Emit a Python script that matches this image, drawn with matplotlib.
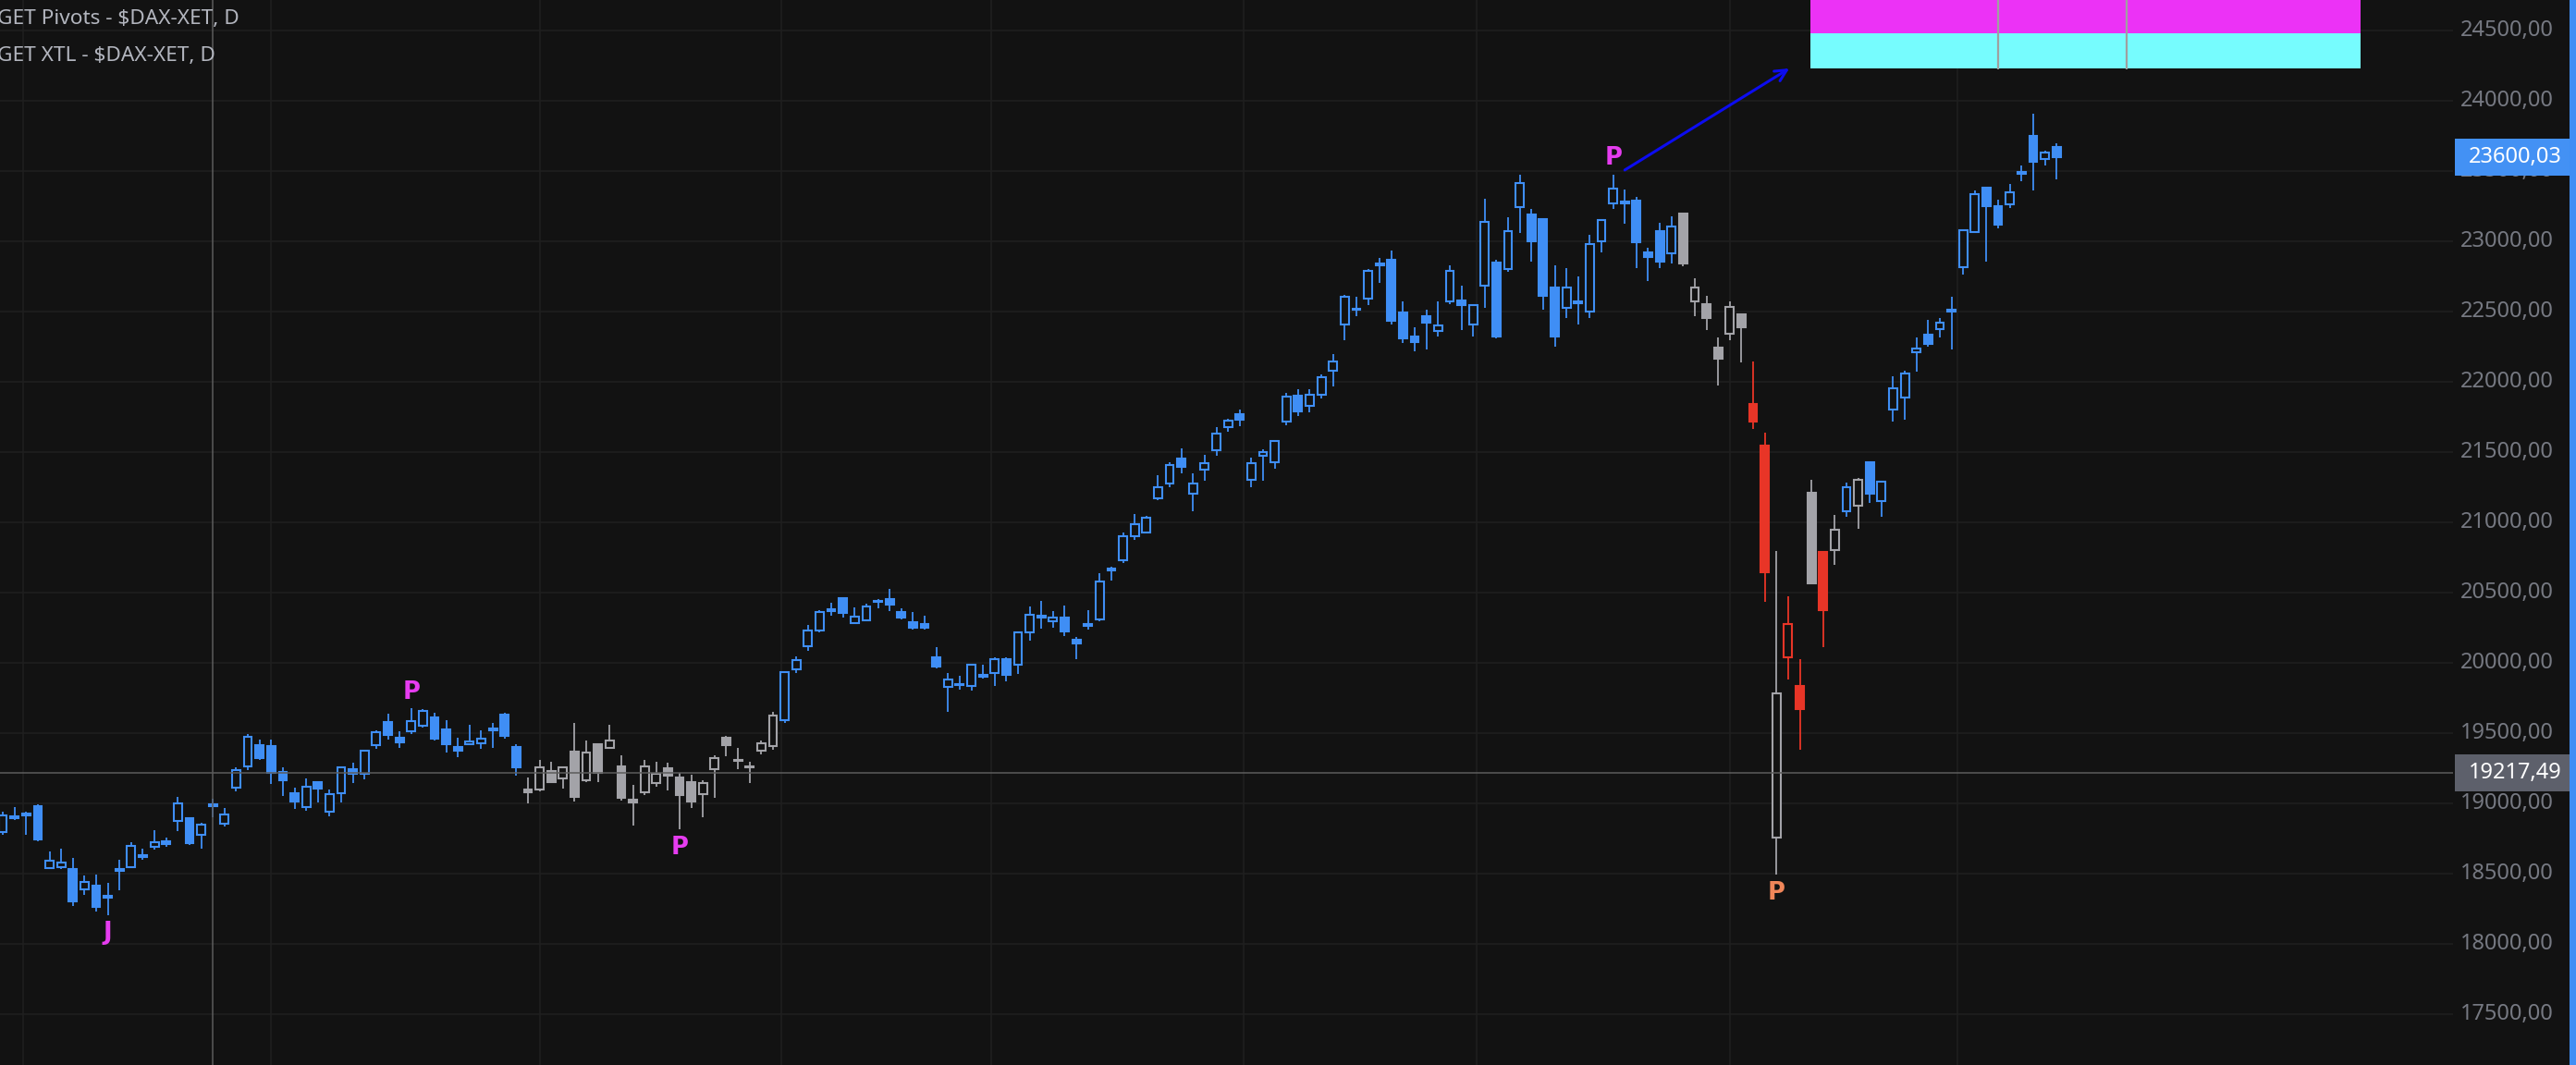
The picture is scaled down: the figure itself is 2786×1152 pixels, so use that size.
import numpy as np
import pandas as pd
import matplotlib
matplotlib.use('Agg')
import matplotlib.pyplot as plt
from matplotlib.patches import Rectangle

# daily DAX candles, Sep 2024 - May 2025
opens = [18794, 18892, 18927, 18980, 18537, 18544, 18530, 18386, 18414, 18342,
         18533, 18548, 18629, 18688, 18728, 18877, 18894, 18774, 18991, 18853,
         19109, 19261, 19412, 19408, 19223, 19072, 18971, 19151, 18938, 19070,
         19243, 19208, 19412, 19579, 19467, 19511, 19550, 19612, 19526, 19401,
         19419, 19425, 19533, 19631, 19401, 19098, 19099, 19233, 19176, 19365,
         19165, 19418, 19394, 19266, 19027, 19077, 19143, 19251, 19181, 19154,
         19064, 19242, 19464, 19310, 19264, 19374, 19409, 19594, 19956, 20115,
         20227, 20384, 20463, 20281, 20300, 20443, 20456, 20364, 20292, 20279,
         20038, 19831, 19851, 19838, 19912, 19930, 20029, 19989, 20214, 20334,
         20293, 20321, 20163, 20275, 20311, 20673, 20732, 20903, 20929, 21174,
         21277, 21457, 21205, 21376, 21514, 21678, 21768, 21303, 21474, 21428,
         21717, 21903, 21829, 21908, 22079, 22407, 22521, 22589, 22843, 22869,
         22494, 22323, 22466, 22361, 22571, 22580, 22407, 22683, 22850, 22801,
         23242, 23192, 23159, 22672, 22523, 22575, 22499, 22999, 23268, 23268,
         23288, 22920, 23071, 22913, 23198, 22573, 22554, 22246, 22342, 22483,
         21839, 21543, 18754, 20042, 19835, 21208, 20788, 20802, 21077, 21116,
         21430, 21149, 21803, 21888, 22211, 22338, 22375, 22513, 22816, 23066,
         23384, 23252, 23263, 23480, 23752, 23585, 23673]
highs = [18943, 18971, 18938, 18991, 18658, 18675, 18609, 18484, 18491, 18434,
         18598, 18721, 18675, 18809, 18754, 19046, 18901, 18859, 19030, 18967,
         19254, 19491, 19454, 19454, 19256, 19112, 19177, 19158, 19096, 19265,
         19289, 19381, 19522, 19640, 19513, 19677, 19671, 19645, 19592, 19467,
         19559, 19520, 19572, 19645, 19421, 19184, 19306, 19295, 19266, 19570,
         19444, 19420, 19556, 19345, 19134, 19312, 19295, 19288, 19220, 19207,
         19163, 19345, 19477, 19392, 19295, 19444, 19649, 19940, 20044, 20269,
         20378, 20430, 20466, 20397, 20423, 20456, 20528, 20390, 20364, 20338,
         20110, 19930, 19906, 19990, 19985, 20038, 20038, 20222, 20403, 20440,
         20367, 20407, 20183, 20374, 20638, 20684, 20927, 21058, 21047, 21334,
         21426, 21525, 21347, 21479, 21676, 21735, 21801, 21463, 21518, 21582,
         21923, 21945, 21945, 22050, 22195, 22619, 22606, 22804, 22882, 22935,
         22573, 22389, 22514, 22573, 22830, 22685, 22545, 23303, 22869, 23172,
         23475, 23231, 23165, 22830, 22810, 22751, 23047, 23150, 23475, 23369,
         23317, 22955, 23132, 23178, 23205, 22738, 22613, 22318, 22575, 22483,
         22147, 21641, 20799, 20472, 20026, 21300, 20799, 21050, 21285, 21316,
         21437, 21298, 22042, 22081, 22318, 22443, 22456, 22608, 23079, 23364,
         23390, 23298, 23410, 23542, 23910, 23647, 23699]
lows = [18778, 18884, 18778, 18728, 18530, 18535, 18272, 18351, 18232, 18206,
        18383, 18541, 18601, 18673, 18693, 18805, 18706, 18680, 18903, 18837,
        19087, 19239, 19309, 19140, 19055, 18962, 18949, 19008, 18910, 19008,
        19147, 19173, 19390, 19456, 19397, 19495, 19541, 19447, 19364, 19331,
        19416, 19390, 19397, 19462, 19199, 19002, 19084, 19145, 19104, 19011,
        19150, 19150, 19385, 19018, 18840, 19062, 19121, 19090, 18813, 18965,
        18899, 19038, 19334, 19242, 19143, 19348, 19381, 19572, 19928, 20088,
        20218, 20333, 20320, 20281, 20294, 20386, 20366, 20307, 20239, 20239,
        19961, 19649, 19809, 19803, 19888, 19836, 19869, 19921, 20159, 20242,
        20249, 20192, 20027, 20238, 20298, 20588, 20712, 20876, 20920, 21157,
        21249, 21347, 21078, 21295, 21472, 21643, 21682, 21249, 21295, 21382,
        21689, 21755, 21781, 21879, 21965, 22299, 22464, 22543, 22707, 22409,
        22273, 22220, 22227, 22325, 22551, 22371, 22325, 22523, 22312, 22786,
        23056, 22852, 22510, 22253, 22457, 22411, 22457, 22924, 23233, 23128,
        22812, 22714, 22806, 22839, 22819, 22464, 22371, 21972, 22294, 22136,
        21662, 20434, 18490, 19884, 19383, 20560, 20113, 20696, 21037, 20952,
        21136, 21037, 21715, 21728, 22070, 22248, 22314, 22228, 22761, 23066,
        22853, 23094, 23235, 23426, 23359, 23537, 23438]
closes = [18912, 18905, 18916, 18745, 18590, 18576, 18305, 18438, 18265, 18331,
          18522, 18695, 18620, 18721, 18712, 18998, 18719, 18846, 18982, 18919,
          19234, 19471, 19324, 19215, 19166, 19015, 19116, 19107, 19063, 19254,
          19212, 19372, 19506, 19489, 19436, 19583, 19655, 19462, 19423, 19377,
          19438, 19458, 19522, 19482, 19258, 19081, 19257, 19150, 19257, 19044,
          19363, 19220, 19449, 19038, 19005, 19264, 19211, 19196, 19062, 19011,
          19145, 19323, 19414, 19301, 19255, 19429, 19627, 19937, 20022, 20233,
          20364, 20371, 20353, 20329, 20401, 20432, 20412, 20320, 20248, 20248,
          19974, 19884, 19842, 19989, 19902, 20029, 19915, 20220, 20345, 20323,
          20319, 20225, 20141, 20266, 20577, 20660, 20898, 20990, 21036, 21253,
          21411, 21395, 21279, 21424, 21634, 21726, 21730, 21424, 21503, 21582,
          21897, 21790, 21910, 22035, 22147, 22604, 22510, 22788, 22832, 22431,
          22312, 22286, 22424, 22400, 22788, 22549, 22545, 23137, 22325, 23071,
          23413, 23003, 22615, 22325, 22670, 22562, 22979, 23150, 23374, 23282,
          22996, 22891, 22852, 23104, 22839, 22670, 22457, 22162, 22533, 22386,
          21717, 20647, 19786, 20279, 19672, 20568, 20377, 20949, 21250, 21303,
          21202, 21290, 21954, 22059, 22235, 22268, 22421, 22498, 23079, 23336,
          23248, 23116, 23349, 23496, 23563, 23631, 23600]

# XTL state per candle as runs: b = bull (blue), g = neutral (gray), r = bear (red)
trend_runs = [('b', 45), ('g', 22), ('b', 77), ('g', 6), ('r', 2), ('g', 1), ('r', 2),
              ('g', 1), ('r', 1), ('g', 1), ('b', 1), ('g', 1), ('b', 17)]

# pivot marks
pivot_bar = [9, 35, 58, 138, 152]
pivot_text = ['J', 'P', 'P', 'P', 'P']
pivot_side = ['below', 'above', 'below', 'above', 'below']
pivot_col = ['#e63cf0', '#e63cf0', '#e63cf0', '#e63cf0', '#f08659']

price_ticks = list(range(17500, 25000, 500))
month_lines = [1.7, 23.0, 46.0, 66.7, 84.7, 106.3, 126.3, 148.0, 167.5]
last_price = 23600.03
cross_price = 19217.49
cross_bar = 18

# target zone (top right)
zone_x0, zone_x1 = 154.9, 202.06
zone_lo, zone_mid, zone_hi = 24230, 24480, 24900
zone_splits = [171.0, 182.0]
arrow_from = (139.0, 23507)
arrow_to = (153.1, 24230)

BG = '#121212'
GRID = '#1f1f1f'
COLS = {'b': '#3f8ef5', 'g': '#a3a3a8', 'r': '#e83527'}
W, H = 2786, 1152
PLOT_W = 2653

trend = []
for s, n in trend_runs:
    trend += [s] * n

fig = plt.figure(figsize=(W / 100, H / 100), dpi=100, facecolor=BG)
ax = fig.add_axes([0, 0, PLOT_W / W, 1])
ax.axis('off')
ax.set_xlim(-0.2425, 209.98)
ax.set_ylim(17138, 24717)

for p in price_ticks:
    ax.axhline(p, color=GRID, lw=1.2, zorder=0)
for m in month_lines:
    ax.axvline(m, color=GRID, lw=1.2, zorder=0)

# candles (hollow when close >= open)
bw = 0.7
for i in range(len(opens)):
    o, h, l, c = opens[i], highs[i], lows[i], closes[i]
    col = COLS[trend[i]]
    top, bot = max(o, c), min(o, c)
    if h > top:
        ax.vlines(i, top, h, color=col, lw=1.3, zorder=2)
    if l < bot:
        ax.vlines(i, l, bot, color=col, lw=1.3, zorder=2)
    fc = BG if c >= o else col
    ax.add_patch(Rectangle((i - bw / 2, bot), bw, top - bot, facecolor=fc,
                           edgecolor=col, lw=1.5, zorder=3))

# pivot labels
for i, t, side, col in zip(pivot_bar, pivot_text, pivot_side, pivot_col):
    if side == 'above':
        ax.annotate(t, (i, highs[i]), xytext=(0, 7.5), textcoords='offset points',
                    ha='center', va='baseline', fontsize=18.5, fontweight='bold',
                    color=col, zorder=6)
    else:
        ax.annotate(t, (i, lows[i]), xytext=(0, -19), textcoords='offset points',
                    ha='center', va='baseline', fontsize=18.5, fontweight='bold',
                    color=col, zorder=6)

# target zone boxes + arrow
ax.add_patch(Rectangle((zone_x0, zone_mid), zone_x1 - zone_x0, zone_hi - zone_mid,
                       facecolor='#ec32f6', edgecolor='none', zorder=4))
ax.add_patch(Rectangle((zone_x0, zone_lo), zone_x1 - zone_x0, zone_mid - zone_lo,
                       facecolor='#76fcfe', edgecolor='none', zorder=4))
for xs in zone_splits:
    ax.vlines(xs, zone_lo - 8, zone_hi, color='#a0a0a0', lw=1.6, zorder=5)
ax.annotate('', xy=arrow_to, xytext=arrow_from,
            arrowprops=dict(arrowstyle='->', color='#0c0cf0', lw=2.2,
                            mutation_scale=22, shrinkA=0, shrinkB=0), zorder=5)

# crosshair
ax.axhline(cross_price, color='#5c5c5c', lw=1.1, zorder=7)
ax.axvline(cross_bar, color='#5c5c5c', lw=1.1, zorder=7)

# price scale on the right
ytr = ax.get_yaxis_transform()
for p in price_ticks:
    ax.text(2661 / PLOT_W, p, f'{p:.2f}'.replace('.', ','), transform=ytr,
            ha='left', va='center', fontsize=17, color='#767982',
            family=['Noto Sans', 'DejaVu Sans'], clip_on=False)

y0, y1 = ax.get_ylim()


def yfrac(p):
    return (p - y0) / (y1 - y0)


for p, bg in [(last_price, '#4391f4'), (cross_price, '#5d606b')]:
    fig.patches.append(Rectangle((2655 / W, yfrac(p) - 20 / H), 124 / W, 40 / H,
                                 transform=fig.transFigure, facecolor=bg,
                                 edgecolor='none', zorder=8))
    fig.text(2720 / W, yfrac(p), f'{p:.2f}'.replace('.', ','), ha='center',
             va='center', fontsize=17, color='white',
             family=['Noto Sans', 'DejaVu Sans'], zorder=9)

# blue strip at the right edge
fig.patches.append(Rectangle((2779 / W, 0), 7 / W, 1, transform=fig.transFigure,
                             facecolor='#3f8ef5', edgecolor='none'))

# indicator titles
fig.text(-3 / W, 1 - 26 / H, 'GET Pivots - $DAX-XET, D', ha='left', va='baseline',
         fontsize=16.3, color='#b2b5be', family=['Noto Sans', 'DejaVu Sans'])
fig.text(-3 / W, 1 - 66 / H, 'GET XTL - $DAX-XET, D', ha='left', va='baseline',
         fontsize=16.3, color='#b2b5be', family=['Noto Sans', 'DejaVu Sans'])

fig.savefig('out.png', dpi=100, facecolor=BG)
